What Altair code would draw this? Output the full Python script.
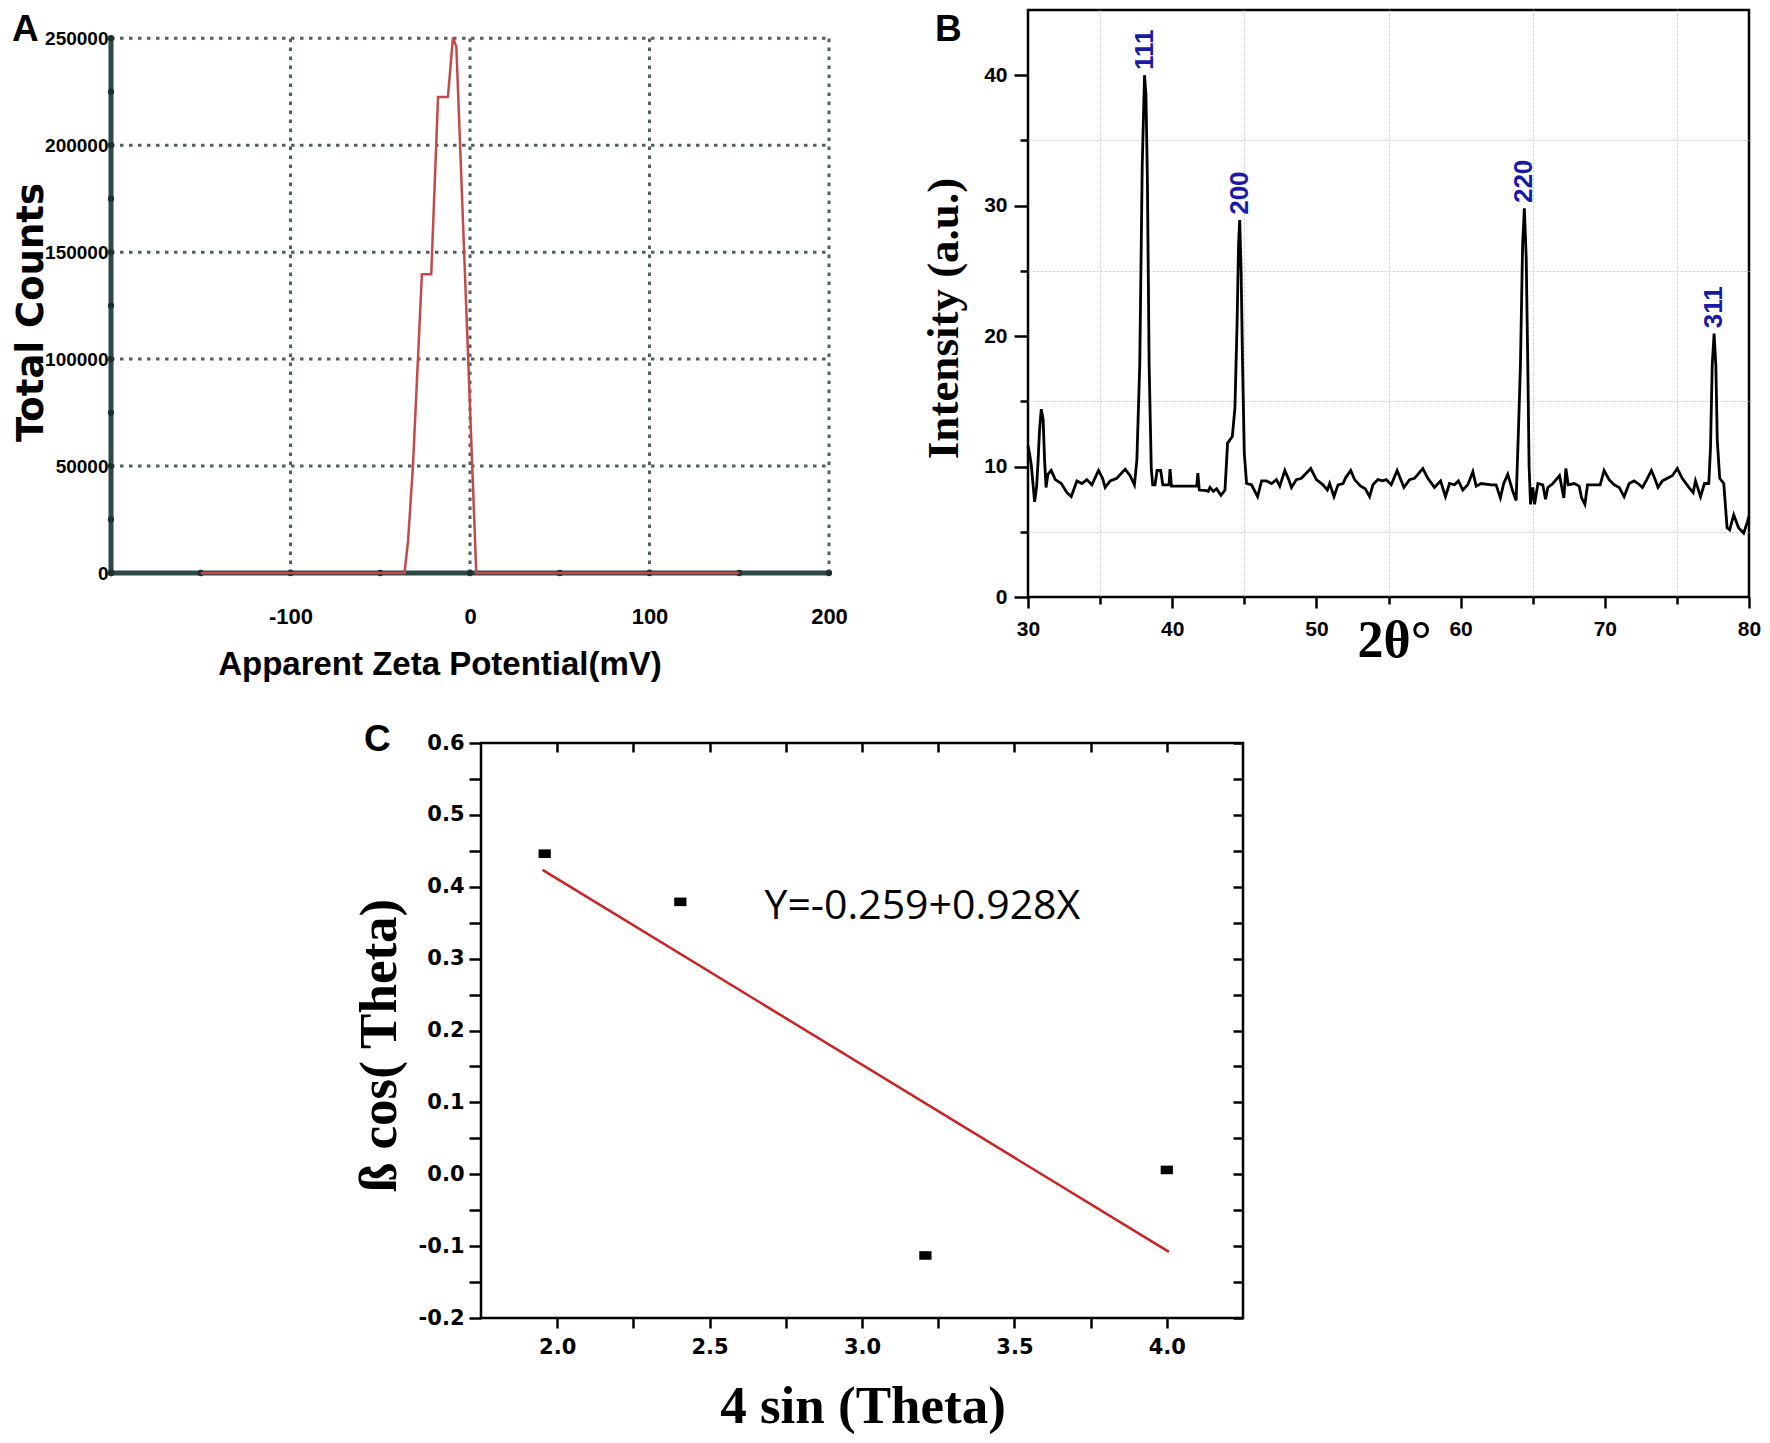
import altair as alt
import pandas as pd

# ---------------- Panel A : zeta potential distribution ----------------
zeta_mv = [-150, -36.5, -34.5, -31.8, -29.0, -26.8, -21.6, -17.8, -12.3, -9.5, -7.6, 3.5, 150]
total_counts = [0, 0, 15000, 50000, 100000, 139700, 139700, 222500, 222500, 250300, 246000, 0, 0]
a_count_labels = [0, 50000, 100000, 150000, 200000, 250000]
a_mv_labels = [-100, 0, 100, 200]
a_count_grid = [50000, 100000, 150000, 200000, 250000]
a_mv_grid = [-100, 0, 100, 200]
a_count_dots = [0, 25000, 50000, 75000, 100000, 125000, 150000, 175000, 200000, 225000, 250000]
a_mv_dots = [-200, -150, -100, -50, 0, 50, 100, 150, 200]
a_mv_range = [-200, 200]
a_count_range = [0, 250000]
a_count_domain_top = 263200

# ---------------- Panel B : XRD pattern ----------------
two_theta = [30.0, 30.12, 30.23, 30.46, 30.6, 30.69, 30.8, 30.92, 31.05, 31.15, 31.25, 31.38, 31.61, 31.89,
             32.31, 32.7, 33.0, 33.39, 33.74, 34.08, 34.43, 34.89, 35.17, 35.35, 35.7, 36.16, 36.74, 37.08,
             37.38, 37.55, 37.75, 37.92, 38.08, 38.18, 38.28, 38.4, 38.55, 38.65, 38.81, 38.95, 39.2, 39.35,
             39.78, 39.85, 39.95, 40.43, 41.7, 41.78, 41.88, 42.39, 42.5, 42.62, 42.85, 43.08, 43.38, 43.66,
             43.84, 44.17, 44.35, 44.5, 44.6, 44.68, 44.78, 44.88, 45.0, 45.16, 45.5, 45.92, 46.2, 46.54,
             46.89, 47.23, 47.46, 47.81, 48.08, 48.27, 48.61, 48.96, 49.31, 49.61, 50.0, 50.46, 50.76, 50.92,
             51.22, 51.5, 51.85, 52.01, 52.38, 52.65, 53.07, 53.39, 53.69, 53.92, 54.27, 54.6, 54.84, 55.19,
             55.6, 56.07, 56.46, 56.8, 57.38, 57.73, 58.19, 58.61, 58.95, 59.23, 59.58, 59.85, 60.15, 60.5,
             60.85, 61.08, 61.42, 62.12, 62.46, 62.76, 62.99, 63.27, 63.62, 63.85, 64.01, 64.15, 64.3, 64.42,
             64.55, 64.66, 64.75, 64.85, 65.01, 65.13, 65.36, 65.7, 65.89, 66.05, 66.4, 66.86, 67.16, 67.3,
             67.46, 67.88, 68.22, 68.39, 68.62, 68.8, 69.26, 69.68, 69.95, 70.3, 70.65, 71.0, 71.34, 71.69,
             72.03, 72.31, 72.61, 72.91, 73.23, 73.46, 73.69, 73.99, 74.34, 74.68, 75.03, 75.37, 75.83, 76.13,
             76.29, 76.64, 76.91, 77.21, 77.33, 77.45, 77.58, 77.7, 77.8, 77.97, 78.25, 78.48, 78.66, 78.94,
             79.28, 79.63, 79.9, 80.0]
intensity = [11.6, 10.9, 10.1, 7.3, 8.5, 10.2, 12.8, 14.4, 13.6, 10.5, 8.4, 9.4, 9.7, 9.0,
             8.7, 8.0, 7.7, 8.9, 8.7, 9.0, 8.6, 9.7, 9.1, 8.4, 8.9, 9.1, 9.8, 9.3,
             8.6, 10.5, 17.8, 33.0, 40.0, 38.5, 32.0, 17.8, 9.8, 8.6, 8.6, 9.7, 9.7, 8.6,
             8.6, 9.8, 8.5, 8.5, 8.5, 9.5, 8.2, 8.15, 8.1, 8.4, 8.1, 8.3, 7.8, 8.2,
             11.8, 12.3, 14.5, 21.0, 27.0, 28.9, 25.0, 17.8, 11.0, 8.7, 8.6, 7.7, 8.9, 8.9,
             8.7, 9.0, 8.5, 9.7, 9.0, 8.4, 9.0, 9.1, 9.5, 9.85, 9.0, 8.6, 8.2, 8.7,
             7.7, 8.6, 8.7, 9.1, 9.7, 9.0, 8.5, 8.3, 7.7, 8.6, 9.0, 8.9, 9.0, 8.6,
             9.7, 8.4, 9.0, 9.1, 9.85, 9.1, 8.4, 8.9, 7.7, 8.7, 8.6, 8.9, 8.2, 8.6,
             9.6, 8.5, 8.7, 8.6, 8.6, 7.6, 8.7, 9.4, 8.1, 7.4, 12.7, 17.8, 27.0, 29.8,
             26.0, 17.8, 10.0, 7.1, 8.4, 7.1, 8.7, 8.6, 7.5, 8.4, 8.7, 9.3, 7.6, 9.85,
             8.6, 8.7, 8.5, 7.6, 7.1, 8.6, 8.6, 8.6, 9.7, 9.0, 8.6, 8.4, 7.7, 8.7,
             8.9, 8.7, 8.4, 9.0, 9.7, 9.1, 8.4, 8.9, 9.1, 9.3, 9.85, 9.1, 8.4, 8.0,
             8.9, 7.7, 8.7, 8.7, 11.4, 17.8, 20.2, 17.8, 12.0, 9.1, 8.7, 5.3, 5.15, 6.3,
             5.3, 4.9, 5.8, 6.2]
peak_labels = ["111", "200", "220", "311"]
peak_theta = [38.08, 44.68, 64.42, 77.58]
peak_top = [40.0, 28.9, 29.8, 20.2]
b_theta_ticks = [30, 35, 40, 45, 50, 55, 60, 65, 70, 75, 80]
b_int_ticks = [0, 5, 10, 15, 20, 25, 30, 35, 40]

# ---------------- Panel C : Williamson-Hall plot ----------------
four_sin_theta = [1.959, 2.404, 3.208, 4.0]
beta_cos_theta = [0.446, 0.379, -0.113, 0.006]
fit_x = [1.952, 4.007]
fit_y = [0.4235, -0.108]
equation_text = ["Y=-0.259+0.928X"]
equation_x = [2.68]
equation_y = [0.355]
c_x_ticks = [2.0, 2.25, 2.5, 2.75, 3.0, 3.25, 3.5, 3.75, 4.0]
c_y_ticks = [-0.2, -0.15, -0.1, -0.05, 0.0, 0.05, 0.1, 0.15, 0.2, 0.25, 0.3, 0.35, 0.4, 0.45, 0.5, 0.55, 0.6]

# ---------------- styling ----------------
SANS = "Liberation Sans, Arial, sans-serif"
SERIF = "Liberation Serif, Times New Roman, serif"
DEJAVU = "DejaVu Sans, sans-serif"
A_GRID = "#4f6060"
A_AXIS = "#2f4848"


def letter(t, dx, dy):
    return alt.TitleParams(text=t, anchor="start", frame="group", orient="top", offset=0,
                           dx=dx, dy=dy, baseline="top", font=SANS, fontSize=37,
                           fontWeight="bold", color="black")


# ================= Panel A =================
sAx = alt.Scale(domain=a_mv_range, nice=False, zero=False)
sAy = alt.Scale(domain=[0, a_count_domain_top], nice=False, zero=False)

axAx = alt.Axis(orient="bottom", values=a_mv_labels,
                labelExpr="datum.value < 0 ? '-' + toString(abs(datum.value)) : toString(datum.value)",
                ticks=False, domain=False, grid=False, labelFlush=False, labelPadding=33,
                labelFont=SANS, labelFontSize=22, labelFontWeight="bold", labelColor="black",
                title="Apparent Zeta Potential(mV)", titleFont=SANS, titleFontSize=33,
                titleFontWeight="bold", titleColor="black", titleX=328.5, titleY=101,
                titleBaseline="alphabetic", titleAlign="center")
axAy = alt.Axis(orient="left", values=a_count_labels, format="d", ticks=False, domain=False, grid=False,
                labelPadding=3, labelFont=SANS, labelFontSize=19, labelFontWeight="bold",
                labelColor="black", title="Total Counts", titleFont=DEJAVU, titleFontSize=37,
                titleFontWeight="bold", titleColor="black", titleX=-69, titleY=302,
                titleBaseline="alphabetic", titleAlign="center")

n_h = len(a_count_grid)
df_gh = pd.DataFrame({"x": [a_mv_range[0]] * n_h, "x2": [a_mv_range[1]] * n_h, "y": a_count_grid})
n_v = len(a_mv_grid)
df_gv = pd.DataFrame({"x": a_mv_grid, "y": [a_count_range[0]] * n_v, "y2": [a_count_range[1]] * n_v})
df_ax = pd.DataFrame({"x": [a_mv_range[0], a_mv_range[0]], "x2": [a_mv_range[0], a_mv_range[1]],
                      "y": [a_count_range[0], a_count_range[0]], "y2": [a_count_range[1], a_count_range[0]]})
df_dots = pd.DataFrame({
    "x": [a_mv_range[0]] * len(a_count_dots) + a_mv_dots,
    "y": a_count_dots + [a_count_range[0]] * len(a_mv_dots)})
df_a = pd.DataFrame({"mv": zeta_mv, "counts": total_counts})

gridA_h = alt.Chart(df_gh).mark_rule(color=A_GRID, strokeWidth=3, strokeDash=[3.5, 5.5]).encode(
    x=alt.X("x:Q", scale=sAx, axis=None), x2="x2:Q", y=alt.Y("y:Q", scale=sAy, axis=None))
gridA_v = alt.Chart(df_gv).mark_rule(color=A_GRID, strokeWidth=3, strokeDash=[3.5, 5.5]).encode(
    x=alt.X("x:Q", scale=sAx, axis=None), y=alt.Y("y:Q", scale=sAy, axis=None), y2="y2:Q")
axesA = alt.Chart(df_ax).mark_rule(color=A_AXIS, strokeWidth=5).encode(
    x=alt.X("x:Q", scale=sAx, axis=None), x2="x2:Q", y=alt.Y("y:Q", scale=sAy, axis=None), y2="y2:Q")
dotsA = alt.Chart(df_dots).mark_circle(color="#1f2f2f", size=40, opacity=1).encode(
    x=alt.X("x:Q", scale=sAx, axis=None), y=alt.Y("y:Q", scale=sAy, axis=None))
curveA = alt.Chart(df_a).mark_line(color="#c24a4a", strokeWidth=2.5).encode(
    x=alt.X("mv:Q", scale=sAx, axis=axAx), y=alt.Y("counts:Q", scale=sAy, axis=axAy))

panelA = alt.layer(gridA_h, gridA_v, axesA, dotsA, curveA).resolve_axis(
    x="independent", y="independent").properties(
    width=718, height=563, title=letter("A", -99, 39))

# ================= Panel B =================
sBx = alt.Scale(domain=[30, 80], nice=False, zero=False)
sBy = alt.Scale(domain=[0, 45], nice=False, zero=False)
major10 = "datum.value % 10 === 0"

axBx = alt.Axis(orient="bottom", values=b_theta_ticks, labelExpr=major10 + " ? datum.label : ''",
                tickSize={"condition": {"test": major10, "value": 11}, "value": 7},
                tickColor="black", tickWidth=2.5, domain=False, grid=True, gridColor="#c8c8c8",
                gridDash=[2, 2], gridWidth=1,
                gridOpacity={"condition": {"test": major10, "value": 0}, "value": 1},
                labelFlush=False, labelOverlap=False, labelPadding=10, labelFont=SANS,
                labelFontSize=21, labelFontWeight="bold", labelColor="black",
                title="2θ°", titleFont=SERIF, titleFontSize=52, titleFontWeight="bold",
                titleColor="black", titleX=366, titleY=59, titleBaseline="alphabetic",
                titleAlign="center")
axBy = alt.Axis(orient="left", values=b_int_ticks, labelExpr=major10 + " ? datum.label : ''",
                tickSize={"condition": {"test": major10, "value": 14}, "value": 8},
                tickColor="black", tickWidth=2.5, domain=False, grid=True, gridColor="#c8c8c8",
                gridDash=[2, 2], gridWidth=1,
                gridOpacity={"condition": {"test": major10, "value": 0}, "value": 1},
                labelOverlap=False, labelPadding=7, labelFont=SANS, labelFontSize=21,
                labelFontWeight="bold", labelColor="black",
                title="Intensity (a.u.)", titleFont=SERIF, titleFontSize=45, titleFontWeight="bold",
                titleColor="black", titleX=-71, titleY=308, titleBaseline="alphabetic",
                titleAlign="center")

df_b = pd.DataFrame({"theta": two_theta, "inten": intensity})
df_pk = pd.DataFrame({"theta": peak_theta, "top": [v + 0.4 for v in peak_top], "label": peak_labels})

lineB = alt.Chart(df_b).mark_line(color="black", strokeWidth=2.8).encode(
    x=alt.X("theta:Q", scale=sBx, axis=axBx), y=alt.Y("inten:Q", scale=sBy, axis=axBy))
labelsB = alt.Chart(df_pk).mark_text(angle=270, align="left", baseline="middle", font=SANS,
                                     fontSize=26, fontWeight="bold", color="#1a1aa6").encode(
    x=alt.X("theta:Q", scale=sBx, axis=None), y=alt.Y("top:Q", scale=sBy, axis=None), text="label:N")

panelB = alt.layer(lineB, labelsB).resolve_axis(x="independent", y="independent").properties(
    width=721, height=587, title=letter("B", -93, 39),
    view=alt.ViewBackground(stroke="black", strokeWidth=2.5))

# ================= Panel C =================
sCx = alt.Scale(domain=[1.75, 4.25], nice=False, zero=False)
sCy = alt.Scale(domain=[-0.2, 0.6], nice=False, zero=False)

axCx = alt.Axis(orient="bottom", values=c_x_ticks,
                labelExpr="round(datum.value*4) % 2 === 0 ? format(datum.value, '.1f') : ''",
                tickSize=10, tickColor="black", tickWidth=2.5, domain=False, grid=False,
                labelFlush=False, labelOverlap=False, labelPadding=8, labelFont=DEJAVU,
                labelFontSize=21, labelFontWeight="bold", labelColor="black",
                title="4 sin (Theta)", titleFont=SERIF, titleFontSize=53, titleFontWeight="bold",
                titleColor="black", titleX=381.5, titleY=104, titleBaseline="alphabetic",
                titleAlign="center")
axCy = alt.Axis(orient="left", values=c_y_ticks,
                labelExpr="round(datum.value*20) % 2 === 0 ? replace(format(datum.value, '.1f'), '−', '-') : ''",
                tickSize=12, tickColor="black", tickWidth=2.5, domain=False, grid=False,
                labelOverlap=False, labelPadding=5, labelFont=DEJAVU, labelFontSize=21,
                labelFontWeight="bold", labelColor="black",
                title="ß cos( Theta)", titleFont=SERIF, titleFontSize=53, titleFontWeight="bold",
                titleColor="black", titleX=-86, titleY=302, titleBaseline="alphabetic",
                titleAlign="center")
axCtop = alt.Axis(orient="top", values=c_x_ticks, labels=False, tickSize=9, tickColor="black",
                  tickWidth=2.5, domain=False, grid=False, offset=-9, title="")
axCright = alt.Axis(orient="right", values=c_y_ticks, labels=False, tickSize=10, tickColor="black",
                    tickWidth=2.5, domain=False, grid=False, offset=-10, title="")

df_c = pd.DataFrame({"x": four_sin_theta, "y": beta_cos_theta})
df_fit = pd.DataFrame({"x": fit_x, "y": fit_y})
df_eq = pd.DataFrame({"x": equation_x, "y": equation_y, "t": equation_text})

fitC = alt.Chart(df_fit).mark_line(color="#cc2222", strokeWidth=2.5).encode(
    x=alt.X("x:Q", scale=sCx, axis=axCtop), y=alt.Y("y:Q", scale=sCy, axis=axCright))
ptsC = alt.Chart(df_c).mark_point(shape="M-1,-0.7L1,-0.7L1,0.7L-1,0.7Z", filled=True, size=150,
                                  color="black", opacity=1).encode(
    x=alt.X("x:Q", scale=sCx, axis=axCx), y=alt.Y("y:Q", scale=sCy, axis=axCy))
eqC = alt.Chart(df_eq).mark_text(align="left", baseline="alphabetic", font="Open Sans",
                                 fontSize=41, color="black").encode(
    x=alt.X("x:Q", scale=sCx, axis=None), y=alt.Y("y:Q", scale=sCy, axis=None), text="t:N")

panelC = alt.layer(fitC, ptsC, eqC).resolve_axis(x="independent", y="independent").properties(
    width=762, height=575, title=letter("C", -117, 27),
    view=alt.ViewBackground(stroke="black", strokeWidth=2.5))

# spacer that pushes panel C to the right
spacer = alt.Chart(pd.DataFrame({"v": [0]})).mark_point(opacity=0).encode(
    x=alt.X("v:Q", axis=None), y=alt.Y("v:Q", axis=None)).properties(width=171, height=10)

row1 = alt.hconcat(panelA, panelB, spacing=199, bounds="flush")
row2 = alt.hconcat(spacer, panelC, spacing=199, bounds="flush")

chart = alt.vconcat(row1, row2, spacing=733, bounds="flush").properties(
    padding={"left": 3, "top": 0, "right": 0, "bottom": 0},
    background="white").configure_view(stroke="transparent")

chart.save("out.html", embed_options={"renderer": "svg", "actions": False})
